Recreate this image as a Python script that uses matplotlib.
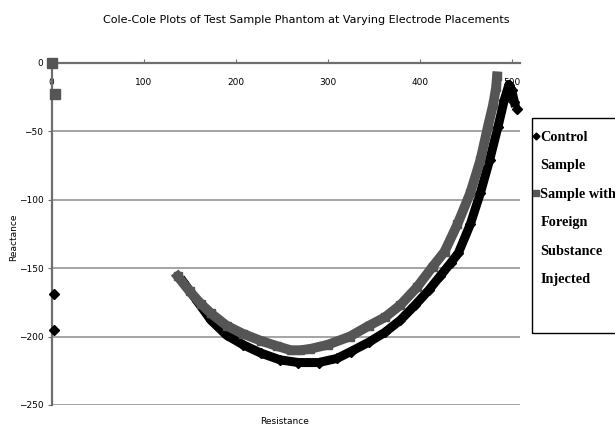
#!/usr/bin/env python3
"""Cole-Cole plot of the test sample phantom at varying electrode placements."""

import matplotlib
matplotlib.use("Agg")
import matplotlib.pyplot as plt
from matplotlib.lines import Line2D
from matplotlib.patches import Rectangle

# Control sample: main arc and stray points near the origin / right end
CONTROL_ARC_R = [143, 158, 173, 190, 208, 227, 248, 268, 290, 310, 325, 345,
                 362, 379, 395, 410, 422, 434, 442, 455, 466, 476, 485, 492, 497, 500, 503]
CONTROL_ARC_X = [-160, -174, -188, -199, -206, -212, -217, -219, -219, -216, -211, -204,
                 -197, -188, -177, -166, -156, -146, -139, -118, -95, -71, -47, -27, -16, -20, -29]
CONTROL_PTS_R = [2.5, 2.5, 506]
CONTROL_PTS_X = [-169, -195, -34]

# Sample with foreign substance injected
INJECTED_ARC_R = [137, 150, 162, 173, 190, 208, 227, 245, 260, 270, 281, 300,
                  324, 345, 362, 379, 397, 414, 427, 441, 455, 466, 474, 480, 483, 484]
INJECTED_ARC_X = [-156, -167, -176, -183, -192, -198, -203, -207, -210, -210, -209, -206,
                  -200, -192, -186, -177, -164, -149, -138, -118, -95, -71, -47, -30, -18, -10]
INJECTED_PTS_R = [0, 4]
INJECTED_PTS_X = [0, -23]

Y_TICKS = [0, -50, -100, -150, -200, -250]
X_TICKS = [0, 100, 200, 300, 400, 500]

BLACK = "#000000"
GRAY = "#555555"
AXIS = "#6e6e6e"
GRID = "#8c8c8c"
SMALL_FONT = ["Liberation Sans Narrow", "DejaVu Sans"]

fig = plt.figure(figsize=(6.15, 4.32), dpi=100)
ax = fig.add_axes([51.7 / 615, 1 - 405 / 432, (520 - 51.7) / 615, (405 - 62.7) / 432])

ax.plot(CONTROL_ARC_R, CONTROL_ARC_X, color=BLACK, lw=6.5, marker="D", ms=5,
        solid_joinstyle="round", zorder=3)
ax.plot(CONTROL_PTS_R, CONTROL_PTS_X, ls="none", color=BLACK, marker="D", ms=5,
        zorder=3, clip_on=False)
ax.plot(INJECTED_ARC_R, INJECTED_ARC_X, color=GRAY, lw=7, marker="s", ms=5.5,
        solid_joinstyle="round", zorder=4)
ax.plot(INJECTED_PTS_R, INJECTED_PTS_X, ls="none", color=GRAY, marker="s", ms=6.5,
        zorder=4, clip_on=False)

ax.set_xlim(0, 509)
ax.set_ylim(-250, 0)
ax.set_xticks(X_TICKS)
ax.set_yticks(Y_TICKS)

# horizontal axis crosses at zero, which is the top of the plot
ax.spines["bottom"].set_position(("data", 0))
ax.spines["top"].set_visible(False)
ax.spines["right"].set_visible(False)
for s in ("bottom", "left"):
    ax.spines[s].set_color(AXIS)
    ax.spines[s].set_linewidth(1.6)
    ax.spines[s].set_zorder(2)

ax.yaxis.grid(True, color=GRID, lw=1.1)
ax.set_axisbelow(True)
ax.tick_params(axis="x", direction="in", length=3, color=AXIS, pad=11, labelsize=6.5)
ax.tick_params(axis="y", direction="out", length=3, color=AXIS, pad=3, labelsize=6.5)
for lab in ax.get_xticklabels() + ax.get_yticklabels():
    lab.set_family(SMALL_FONT)

fig.text(0.498, 1 - 20 / 432, "Cole-Cole Plots of Test Sample Phantom at Varying Electrode Placements",
         ha="center", va="center", fontsize=8, family=SMALL_FONT)
fig.text(14 / 615, 1 - 237 / 432, "Reactance", rotation=90, ha="center", va="center",
         fontsize=6.5, family=SMALL_FONT)
fig.text(285 / 615, 1 - 421 / 432, "Resistance", ha="center", va="center",
         fontsize=6.5, family=SMALL_FONT)

# legend: one label line per row, marker only on the first line of each series
blank = Line2D([], [], ls="none", marker="none")
handles = [
    Line2D([], [], ls="none", marker="D", color=BLACK, ms=3.5),
    blank,
    Line2D([], [], ls="none", marker="s", color=GRAY, ms=4.5),
    blank, blank, blank,
]
labels = ["Control", "Sample", "Sample with", "Foreign", "Substance", "Injected"]
fig.legend(handles, labels, loc="upper left", bbox_to_anchor=(533 / 615, 1 - 131 / 432),
           frameon=False, handlelength=0.42, handletextpad=0.1, borderpad=0,
           labelspacing=1.08, borderaxespad=0,
           prop={"family": "Liberation Serif", "weight": "bold", "size": 10.3})
# legend box runs past the right edge of the figure
fig.add_artist(Rectangle((531.7 / 615, 1 - 332.7 / 432), 0.2, 215 / 432,
                         transform=fig.transFigure, fill=False, ec="black", lw=1.0))

fig.savefig("out.png", dpi=100)
